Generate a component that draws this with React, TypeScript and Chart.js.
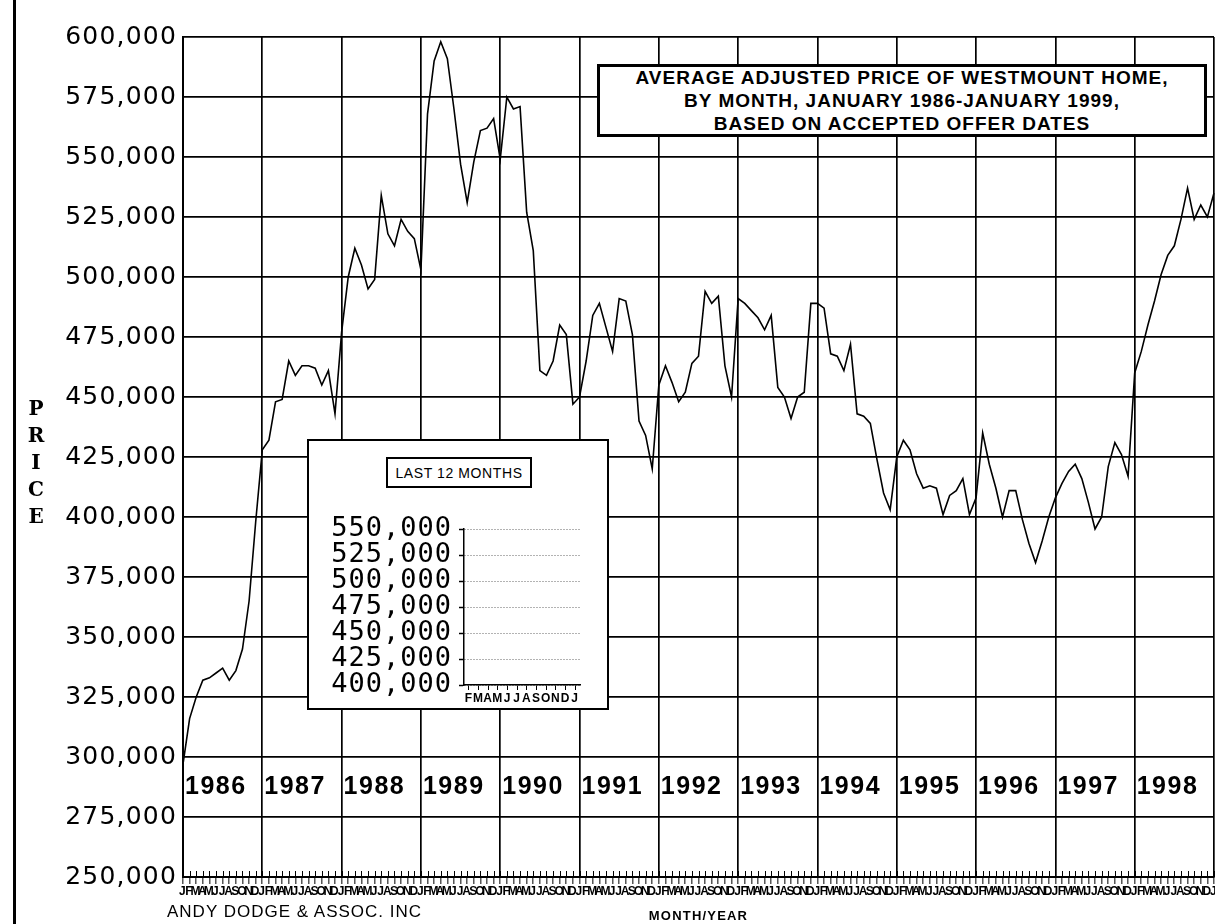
import React, { useEffect, useRef } from 'react';
import { Chart, registerables } from 'chart.js';

Chart.register(...registerables);

// ---------- data ----------
const years = [1986, 1987, 1988, 1989, 1990, 1991, 1992, 1993, 1994, 1995, 1996, 1997, 1998];
const monthLetters = ['J', 'F', 'M', 'A', 'M', 'J', 'J', 'A', 'S', 'O', 'N', 'D'];
const finalMonthLabel = ['J']; // January 1999

const price1986 = [297000, 316000, 325000, 332000, 333000, 335000, 337000, 332000, 336000, 345000, 365000, 398000];
const price1987 = [428000, 432000, 448000, 449000, 465000, 459000, 463000, 463000, 462000, 455000, 461000, 443000];
const price1988 = [477000, 500000, 512000, 505000, 495000, 499000, 534000, 518000, 513000, 524000, 519000, 516000];
const price1989 = [503000, 568000, 590000, 598000, 591000, 570000, 547000, 531000, 548000, 561000, 562000, 566000];
const price1990 = [549000, 575000, 570000, 571000, 527000, 511000, 461000, 459000, 465000, 480000, 476000, 447000];
const price1991 = [450000, 465000, 484000, 489000, 479000, 469000, 491000, 490000, 476000, 440000, 434000, 420000];
const price1992 = [455000, 463000, 456000, 448000, 452000, 464000, 467000, 494000, 489000, 492000, 463000, 450000];
const price1993 = [491000, 489000, 486000, 483000, 478000, 484000, 454000, 450000, 441000, 450000, 452000, 489000];
const price1994 = [489000, 487000, 468000, 467000, 461000, 472000, 443000, 442000, 439000, 424000, 410000, 403000];
const price1995 = [425000, 432000, 428000, 418000, 412000, 413000, 412000, 401000, 409000, 411000, 416000, 401000];
const price1996 = [408000, 435000, 422000, 412000, 400000, 411000, 411000, 399000, 389000, 381000, 390000, 400000];
const price1997 = [408000, 414000, 419000, 422000, 416000, 406000, 395000, 400000, 421000, 431000, 426000, 417000];
const price1998 = [460000, 469000, 480000, 490000, 501000, 509000, 513000, 524000, 537000, 524000, 530000, 525000];
const price1999 = [535000];

const priceMin = 250000;
const priceMax = 600000;
const priceStep = 25000;

const insetMonths = ['F', 'M', 'A', 'M', 'J', 'J', 'A', 'S', 'O', 'N', 'D', 'J'];
const insetMin = 400000;
const insetMax = 550000;
const insetStep = 25000;

const titleLines = [
  'AVERAGE ADJUSTED PRICE OF WESTMOUNT HOME,',
  'BY MONTH, JANUARY 1986-JANUARY 1999,',
  'BASED ON ACCEPTED OFFER DATES',
];
const insetTitle = 'LAST 12 MONTHS';
const yAxisTitle = ['P', 'R', 'I', 'C', 'E'];
const xAxisTitle = 'MONTH/YEAR';
const creditText = 'ANDY DODGE & ASSOC. INC';

// ---------- derived tables ----------
const monthLabels: string[] = [...years.flatMap(() => monthLetters), ...finalMonthLabel];
const priceSeries: number[] = [
  ...price1986, ...price1987, ...price1988, ...price1989, ...price1990, ...price1991, ...price1992,
  ...price1993, ...price1994, ...price1995, ...price1996, ...price1997, ...price1998, ...price1999,
];

const fmt = (v: number | string) => Number(v).toLocaleString('en-US');

const SANS = '"Liberation Sans", Arial, sans-serif';

const spacingPlugin = (spacing: string) => ({
  id: 'letterSpacing',
  beforeDraw(chart: any) {
    chart.ctx.letterSpacing = spacing;
  },
  beforeDatasetsDraw(chart: any) {
    chart.ctx.letterSpacing = '0px';
  },
});

const monthTickPlugin = {
  id: 'monthTicks',
  beforeDatasetsDraw(chart: any) {
    const { ctx, chartArea } = chart;
    const x = chart.scales.x;
    ctx.save();
    ctx.strokeStyle = '#000';
    ctx.lineWidth = 1;
    ctx.beginPath();
    for (let i = 0; i < monthLabels.length; i++) {
      const px = Math.round(x.getPixelForValue(i)) + 0.5;
      ctx.moveTo(px, chartArea.bottom - 6);
      ctx.lineTo(px, chartArea.bottom);
    }
    ctx.stroke();
    ctx.restore();
  },
};

const yearLabelPlugin = {
  id: 'yearLabels',
  afterDatasetsDraw(chart: any) {
    const { ctx } = chart;
    const x = chart.scales.x;
    const y = chart.scales.y;
    ctx.save();
    ctx.letterSpacing = '1.5px';
    ctx.font = `bold 25px ${SANS}`;
    ctx.fillStyle = '#000';
    ctx.textAlign = 'left';
    ctx.textBaseline = 'middle';
    const yPix = y.getPixelForValue(287500);
    years.forEach((yr, i) => {
      const px = x.getPixelForValue(i * 12);
      ctx.fillText(String(yr), px + 2, yPix);
    });
    ctx.restore();
  },
};

export default function App() {
  const mainRef = useRef<HTMLCanvasElement>(null);
  const insetRef = useRef<HTMLCanvasElement>(null);

  useEffect(() => {
    document.body.style.margin = '0';
    const main = new Chart(mainRef.current as HTMLCanvasElement, {
      type: 'line',
      data: {
        labels: monthLabels,
        datasets: [
          {
            data: priceSeries,
            borderColor: '#000',
            borderWidth: 1.6,
            pointRadius: 0,
            tension: 0,
            fill: false,
          },
        ],
      },
      options: {
        animation: false,
        responsive: false,
        devicePixelRatio: 1,
        layout: { padding: { left: 0, right: 1, top: 37, bottom: 0 } },
        plugins: { legend: { display: false }, tooltip: { enabled: false }, title: { display: false } },
        scales: {
          x: {
            type: 'category',
            offset: false,
            grid: {
              color: (c: any) => (c.index % 12 === 0 ? '#000' : 'rgba(0,0,0,0)'),
              lineWidth: 1.7,
              drawTicks: true,
              tickColor: '#000',
              tickLength: 7,
              tickWidth: 1,
            },
            border: { color: '#000', width: 2 },
            ticks: {
              autoSkip: false,
              maxRotation: 0,
              minRotation: 0,
              padding: 0,
              color: '#000',
              font: { family: SANS, size: 12, weight: 'bold' },
            },
            title: {
              display: true,
              text: xAxisTitle,
              color: '#000',
              font: { family: SANS, size: 13, weight: 'bold' },
              padding: { top: 0, bottom: 0 },
            },
            afterFit: (s: any) => {
              s.height = 47;
              s.paddingLeft = 0;
              s.paddingRight = 0;
            },
          },
          y: {
            type: 'linear',
            min: priceMin,
            max: priceMax,
            ticks: {
              stepSize: priceStep,
              callback: (v: any) => fmt(v),
              color: '#000',
              padding: 6,
              autoSkip: false,
              font: { family: '"DejaVu Sans", Verdana, sans-serif', size: 25 },
            },
            grid: { color: '#000', lineWidth: 1.7, drawTicks: false },
            border: { color: '#000', width: 2 },
            afterFit: (s: any) => {
              s.width = 183;
              s.paddingTop = 0;
              s.paddingBottom = 0;
            },
          },
        },
      },
      plugins: [spacingPlugin('1.2px'), monthTickPlugin, yearLabelPlugin],
    } as any);

    const inset = new Chart(insetRef.current as HTMLCanvasElement, {
      type: 'line',
      data: {
        labels: insetMonths,
        datasets: [{ data: [], borderColor: '#000', pointRadius: 0 }],
      },
      options: {
        animation: false,
        responsive: false,
        devicePixelRatio: 1,
        layout: { padding: { left: 0, right: 27, top: 88, bottom: 0 } },
        plugins: { legend: { display: false }, tooltip: { enabled: false } },
        scales: {
          x: {
            type: 'category',
            offset: true,
            grid: {
              drawOnChartArea: false,
              drawTicks: true,
              tickLength: 5,
              tickColor: '#000',
              tickWidth: 1,
              offset: false,
            },
            border: { color: '#000', width: 1.5 },
            ticks: {
              autoSkip: false,
              maxRotation: 0,
              minRotation: 0,
              padding: 1,
              color: '#000',
              font: { family: SANS, size: 12, weight: 'bold' },
            },
            afterFit: (s: any) => {
              s.height = 23;
              s.paddingLeft = 0;
              s.paddingRight = 0;
            },
          },
          y: {
            type: 'linear',
            min: insetMin,
            max: insetMax,
            ticks: {
              stepSize: insetStep,
              callback: (v: any) => fmt(v),
              autoSkip: false,
              color: '#000',
              padding: 7,
              font: { family: '"DejaVu Sans Mono", "Liberation Mono", monospace', size: 27, lineHeight: 1 },
            },
            grid: {
              color: '#666',
              lineWidth: 1,
              drawTicks: true,
              tickLength: 5,
              tickColor: '#000',
              tickWidth: 1.5,
            },
            border: { color: '#000', width: 1.5, dash: [1, 2] },
            afterFit: (s: any) => {
              s.width = 155;
              s.paddingTop = 0;
              s.paddingBottom = 0;
            },
          },
        },
      },
      plugins: [spacingPlugin('1px')],
    } as any);

    return () => {
      main.destroy();
      inset.destroy();
    };
  }, []);

  return (
    <div style={{ position: 'relative', width: 1215, height: 924, overflow: 'hidden', background: '#fff' }}>
      <canvas ref={mainRef} width={1215} height={924} style={{ position: 'absolute', left: 0, top: 0 }} />
      <div style={{ position: 'absolute', left: 13, top: 0, width: 3, height: 924, background: '#000' }} />
      <div
        style={{
          position: 'absolute',
          left: 24,
          top: 395,
          width: 24,
          textAlign: 'center',
          fontFamily: '"DejaVu Serif", "Liberation Serif", serif',
          fontWeight: 'bold',
          fontSize: 20,
          lineHeight: '27px',
          color: '#000',
        }}
      >
        {yAxisTitle.map((ch, i) => (
          <div key={i}>{ch}</div>
        ))}
      </div>
      <div
        style={{
          position: 'absolute',
          left: 597,
          top: 64,
          width: 610,
          height: 73,
          boxSizing: 'border-box',
          border: '3px solid #000',
          background: '#fff',
          display: 'flex',
          flexDirection: 'column',
          justifyContent: 'center',
          alignItems: 'center',
          fontFamily: SANS,
          fontWeight: 'bold',
          fontSize: 19,
          letterSpacing: '1px',
          lineHeight: '23px',
          color: '#000',
        }}
      >
        {titleLines.map((t, i) => (
          <div key={i}>{t}</div>
        ))}
      </div>
      <div
        style={{
          position: 'absolute',
          left: 307,
          top: 439,
          width: 302,
          height: 271,
          boxSizing: 'border-box',
          border: '2px solid #000',
          background: '#fff',
        }}
      >
        <canvas ref={insetRef} width={298} height={267} style={{ position: 'absolute', left: 0, top: 0 }} />
        <div
          style={{
            position: 'absolute',
            left: 77,
            top: 16,
            width: 146,
            height: 31,
            boxSizing: 'border-box',
            border: '2px solid #000',
            display: 'flex',
            alignItems: 'center',
            justifyContent: 'center',
            fontFamily: SANS,
            fontSize: 14,
            letterSpacing: '0.6px',
            color: '#000',
            background: '#fff',
          }}
        >
          {insetTitle}
        </div>
      </div>
      <div
        style={{
          position: 'absolute',
          left: 167,
          top: 902,
          fontFamily: SANS,
          fontSize: 17,
          letterSpacing: '1px',
          lineHeight: '20px',
          color: '#000',
          whiteSpace: 'nowrap',
        }}
      >
        {creditText}
      </div>
    </div>
  );
}
